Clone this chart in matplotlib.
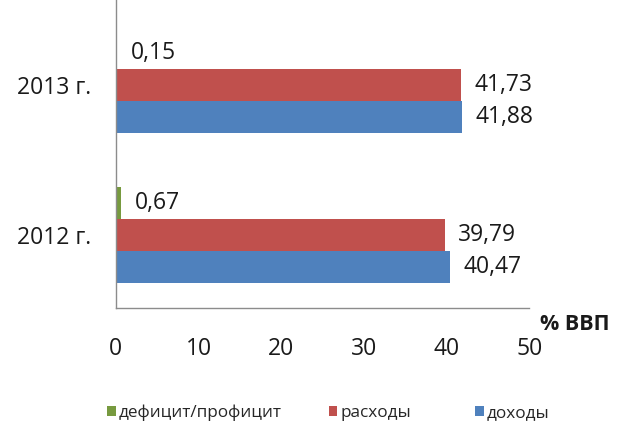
import matplotlib
matplotlib.use("Agg")
import matplotlib.pyplot as plt
import numpy as np

plt.rcParams['font.family'] = ['Open Sans', 'DejaVu Sans']

categories = ["2012 г.", "2013 г."]
deficit = [0.67, 0.15]
expenses = [39.79, 41.73]
revenues = [40.47, 41.88]
labels_def = ["0,67", "0,15"]
labels_exp = ["39,79", "41,73"]
labels_rev = ["40,47", "41,88"]
xticks = [0, 10, 20, 30, 40, 50]
series_names = ["дефицит/профицит", "расходы", "доходы"]

c_green = "#779A3F"
c_red = "#C0504D"
c_blue = "#4F81BD"

fig = plt.figure(figsize=(6.3, 4.23), dpi=100)
ax = fig.add_axes([0.184, 0.272, 0.656, 0.728])

y = np.arange(len(categories))
h = 0.213
b1 = ax.barh(y + h, deficit, height=h, color=c_green)
b2 = ax.barh(y, expenses, height=h, color=c_red)
b3 = ax.barh(y - h, revenues, height=h, color=c_blue)

off = 1.6
fs = 16.5
for i in range(len(categories)):
    ax.text(deficit[i] + off, y[i] + h, labels_def[i], va='center', ha='left', fontsize=fs, color='#1a1a1a')
    ax.text(expenses[i] + off, y[i], labels_exp[i], va='center', ha='left', fontsize=fs, color='#1a1a1a')
    ax.text(revenues[i] + off, y[i] - h, labels_rev[i], va='center', ha='left', fontsize=fs, color='#1a1a1a')

ax.set_xlim(0, 50)
ax.set_ylim(-0.487, 1.567)
ax.set_xticks(xticks)
ax.set_xticklabels([str(t) for t in xticks], fontsize=fs, color='#1a1a1a')
ax.set_yticks(y)
ax.set_yticklabels(categories, fontsize=16.5, color='#1a1a1a')
ax.tick_params(axis='x', length=0, pad=21)
ax.tick_params(axis='y', length=0, pad=18)
for s in ['top', 'right']:
    ax.spines[s].set_visible(False)
for s in ['left', 'bottom']:
    ax.spines[s].set_color('#8C8C8C')
    ax.spines[s].set_linewidth(1.0)

fig.text(0.857, 0.232, "% ВВП", fontsize=15.5, fontweight='bold', ha='left', va='center', color='#1a1a1a')

leg_x = [0.170, 0.522, 0.754]
for hnd, name, lx in zip([b1, b2, b3], series_names, leg_x):
    lg = fig.legend([hnd], [name], loc='center left', bbox_to_anchor=(lx, 0.024),
                    frameon=False, fontsize=12.3, handlelength=0.5, handleheight=0.5,
                    handletextpad=0.2, borderpad=0, borderaxespad=0,
                    labelcolor='#262626')

fig.savefig("out.png", dpi=100, facecolor='white')
